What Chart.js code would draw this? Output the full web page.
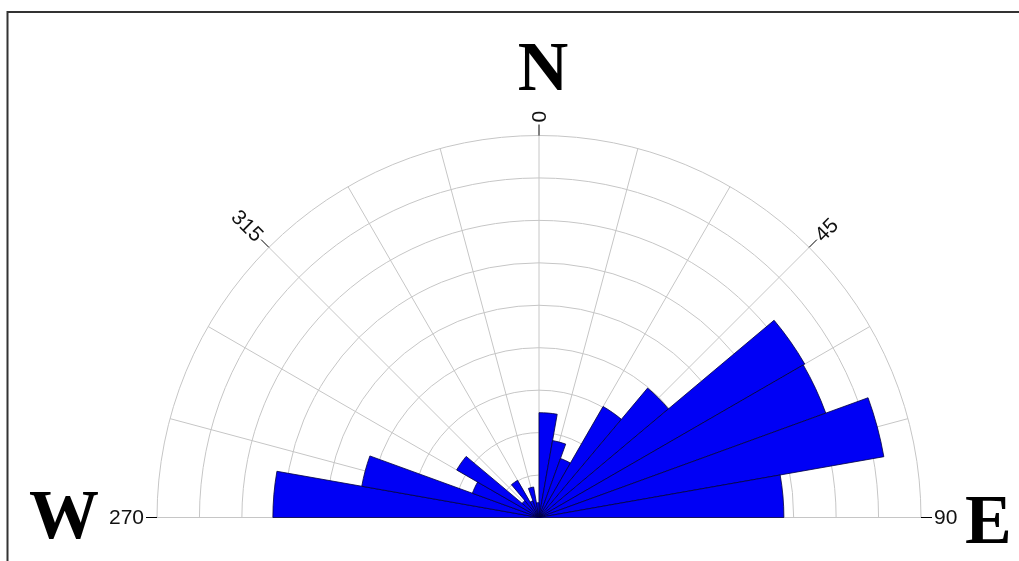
<!DOCTYPE html>
<html>
<head>
<meta charset="utf-8">
<script src="https://cdn.jsdelivr.net/npm/chart.js@4.4.1/dist/chart.umd.min.js"></script>
<style>
html,body{margin:0;padding:0;background:#fff;overflow:hidden}
#wrap{position:relative;width:1019px;height:561px}
</style>
</head>
<body>
<div id="wrap"><canvas id="c" width="1019" height="561"></canvas></div>
<script>
// Direction bins (degrees, clockwise from north), 10-degree sectors
const binLabels = [
  '0-10','10-20','20-30','30-40','40-50','50-60','60-70','70-80','80-90',
  '90-100','100-110','110-120','120-130','130-140','140-150','150-160','160-170','170-180',
  '180-190','190-200','200-210','210-220','220-230','230-240','240-250','250-260','260-270',
  '270-280','280-290','290-300','300-310','310-320','320-330','330-340','340-350','350-360'
];
// Frequency per bin (in grid-ring units)
const frequencies = [
  2.47, 1.84, 1.48, 3.02, 3.98, 7.23, 7.19, 8.25, 5.77,
  0, 0, 0, 0, 0, 0, 0, 0, 0,
  0, 0, 0, 0, 0, 0, 0, 0, 0,
  6.27, 4.24, 1.67, 2.24, 0.52, 1.01, 0.42, 0.73, 0.35
];
const ringMax = 9;
const ringStep = 1;
const tickBearings = [270, 315, 0, 45, 90];
const tickLabels = ['270', '315', '0', '45', '90'];
const compassLetters = ['N', 'W', 'E'];

const roseDecor = {
  id: 'roseDecor',
  beforeDatasetsDraw(chart) {
    const s = chart.scales.r, ctx = chart.ctx;
    const cx = s.xCenter, cy = s.yCenter, R = s.getDistanceFromCenterForValue(ringMax);
    ctx.save();
    ctx.strokeStyle = '#c6c6c6';
    ctx.lineWidth = 1;
    s.ticks.forEach(t => {
      if (t.value <= 0) return;
      const r = s.getDistanceFromCenterForValue(t.value);
      ctx.beginPath();
      ctx.arc(cx, cy, r, Math.PI, 2 * Math.PI);
      ctx.stroke();
    });
    for (let b = -90; b <= 90; b += 15) {
      const a = (b - 90) * Math.PI / 180;
      ctx.beginPath();
      ctx.moveTo(cx, cy);
      ctx.lineTo(cx + R * Math.cos(a), cy + R * Math.sin(a));
      ctx.stroke();
    }
    ctx.restore();
  },
  afterDraw(chart) {
    const s = chart.scales.r, ctx = chart.ctx;
    const cx = s.xCenter, cy = s.yCenter, R = s.getDistanceFromCenterForValue(ringMax);
    ctx.save();
    // ticks and labels
    ctx.strokeStyle = '#000';
    ctx.lineWidth = 1;
    ctx.fillStyle = '#111';
    ctx.font = '21px "Liberation Sans", Arial, sans-serif';
    ctx.textBaseline = 'middle';
    tickBearings.forEach((b, i) => {
      const a = (b - 90) * Math.PI / 180;
      ctx.beginPath();
      ctx.moveTo(cx + R * Math.cos(a), cy + R * Math.sin(a));
      ctx.lineTo(cx + (R + 11) * Math.cos(a), cy + (R + 11) * Math.sin(a));
      ctx.stroke();
      const lx = cx + (R + 13) * Math.cos(a), ly = cy + (R + 13) * Math.sin(a);
      ctx.save();
      ctx.translate(lx, ly);
      const bb = ((b % 360) + 360) % 360;
      if (bb >= 180) {
        ctx.rotate((bb - 270) * Math.PI / 180);
        ctx.textAlign = 'right';
      } else {
        ctx.rotate((bb - 90) * Math.PI / 180);
        ctx.textAlign = 'left';
      }
      ctx.fillText(tickLabels[i], 0, 1);
      ctx.restore();
    });
    // compass letters
    ctx.fillStyle = '#000';
    ctx.font = 'bold 70px "Liberation Serif", "Times New Roman", serif';
    ctx.textBaseline = 'alphabetic';
    ctx.textAlign = 'center';
    ctx.fillText(compassLetters[0], cx + 4, cy - R - 46);
    ctx.textAlign = 'left';
    ctx.fillText(compassLetters[1], cx - R - 128, cy + 20);
    ctx.fillText(compassLetters[2], cx + R + 44, cy + 25);
    // frame
    ctx.strokeStyle = '#333';
    ctx.lineWidth = 2;
    ctx.beginPath();
    ctx.moveTo(7.5, 561);
    ctx.lineTo(7.5, 12);
    ctx.lineTo(1019, 12);
    ctx.stroke();
    ctx.restore();
  }
};

new Chart(document.getElementById('c'), {
  type: 'polarArea',
  data: {
    labels: binLabels,
    datasets: [{
      data: frequencies,
      backgroundColor: '#0000f5',
      borderColor: '#000040',
      borderWidth: 0.8,
      clip: false
    }]
  },
  options: {
    responsive: false,
    animation: false,
    startAngle: 0,
    events: [],
    plugins: { legend: { display: false }, tooltip: { enabled: false } },
    scales: {
      r: {
        min: 0,
        max: ringMax,
        ticks: { stepSize: ringStep, display: false },
        grid: { display: false },
        angleLines: { display: false },
        pointLabels: { display: false },
        afterFit(scale) {
          scale.xCenter = 539;
          scale.yCenter = 517.5;
          scale.drawingArea = 382;
        }
      }
    }
  },
  plugins: [roseDecor]
});
</script>
</body>
</html>
